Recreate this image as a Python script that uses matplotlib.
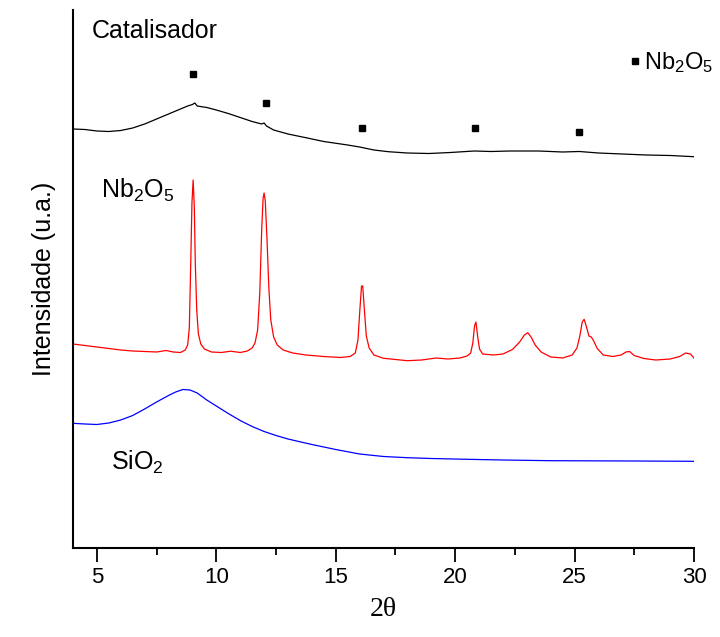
import matplotlib
matplotlib.use("Agg")
import matplotlib.pyplot as plt

plt.rcParams['font.family'] = 'Liberation Sans'
plt.rcParams['mathtext.fontset'] = 'custom'
plt.rcParams['mathtext.rm'] = 'Liberation Sans'
plt.rcParams['mathtext.it'] = 'Liberation Sans:italic'

# Catalisador (black)
cat_x = [4.0, 4.5, 5.0, 5.5, 6.0, 6.5, 7.0, 7.5, 8.0, 8.5, 8.8, 9.0, 9.1, 9.2, 9.6,
         10.0, 10.5, 11.0, 11.5, 11.9, 12.0, 12.1, 12.4, 13.0, 13.75, 14.5, 15.5,
         16.0, 16.2, 16.6, 17.2, 18.0, 18.9, 19.8, 20.8, 21.5, 22.3, 23.5, 24.5,
         25.2, 26.0, 27.0, 28.0, 29.0, 30.0]
cat_y = [419, 418.5, 417, 416.5, 417.5, 420, 424, 429, 434, 439, 442, 443.5, 445, 442, 440.5,
         438, 434.5, 430.5, 426.5, 424, 425, 422, 418, 414, 410.3, 406.5, 403,
         401, 400, 398, 396.3, 395, 394.5, 395.5, 397, 396.5, 397, 397, 396,
         396.5, 395, 394, 393, 392.5, 391.3]

# Nb2O5 (red)
nb_x = [4.0, 4.5, 5.0, 5.5, 6.0, 6.5, 7.0, 7.5, 7.9, 8.2, 8.5, 8.7, 8.8, 8.87, 8.93,
        8.98, 9.03, 9.08, 9.12, 9.18, 9.25, 9.35, 9.5, 9.8, 10.2, 10.6, 11.0, 11.3,
        11.5, 11.62, 11.73, 11.82, 11.9, 11.96, 12.0, 12.05, 12.12, 12.2, 12.28,
        12.4, 12.55, 12.8, 13.2, 13.75, 14.5, 15.2, 15.6, 15.82, 15.93, 16.01, 16.08,
        16.13, 16.2, 16.28, 16.4, 16.6, 17.0, 17.5, 18.0, 18.6, 19.2, 19.7, 20.2,
        20.5, 20.65, 20.74, 20.81, 20.87, 20.94, 21.02, 21.15, 21.6, 22.0, 22.4,
        22.7, 22.9, 23.04, 23.18, 23.35, 23.6, 24.0, 24.5, 24.9, 25.1, 25.22, 25.32,
        25.4, 25.5, 25.6, 25.7, 25.8, 25.95, 26.2, 26.6, 26.95, 27.15, 27.3, 27.5,
        27.9, 28.4, 29.0, 29.4, 29.65, 29.85, 30.0]
nb_y = [204, 202.5, 201, 199.5, 198, 197, 196.5, 196, 197.5, 196, 195.5, 198, 203, 220, 285,
        345, 368, 340, 285, 238, 214, 204, 199, 196, 195.5, 196.8, 195.5, 197,
        200, 205, 218, 255, 318, 350, 355, 347, 310, 260, 228,
        211, 203, 198, 195, 193, 191.5, 190.5, 191.5, 195, 208, 238, 262,
        262, 238, 212, 200, 193, 189.7, 188.5, 187.3, 188, 190, 189, 190,
        192, 195, 205, 222, 226, 212, 199, 194, 193, 194, 198.5,
        206, 213, 215.3, 211, 203, 196, 191, 190, 193, 200, 212, 226,
        228.7, 221, 212, 211, 207, 199.5, 193, 191.5, 193, 196, 196.5, 192.5,
        189.5, 188, 189, 191.5, 195, 194, 190]

# SiO2 (blue)
si_x = [4.0, 4.5, 5.0, 5.5, 6.0, 6.5, 7.0, 7.5, 8.0, 8.3, 8.6, 8.9, 9.2, 9.6, 10.0,
        10.5, 11.0, 11.5, 12.0, 12.5, 13.0, 14.0, 15.0, 16.0, 17.0, 18.0, 19.0,
        20.5, 22.0, 24.0, 27.5, 30.0]
si_y = [124.7, 124, 123.5, 125, 128, 132.5, 139, 146, 152.5, 156, 158.5, 158, 155, 148, 142,
        134.5, 127.5, 121.5, 116.5, 112.5, 109, 103.5, 98.5, 94, 91.5, 90.3, 89.5,
        88.7, 88, 87.3, 87, 86.7]

# Nb2O5 reflections marked on the catalyst pattern
mark_x = [9.02, 12.06, 16.09, 20.81, 25.2]
mark_y = [474, 445.3, 420.3, 419.7, 416.3]

fig = plt.figure(figsize=(7.2, 6.37), dpi=100)
ax = fig.add_axes([73/720, 89/637, 621/720, 538/637])

ax.plot(cat_x, cat_y, color='black', lw=0.9)
ax.plot(nb_x, nb_y, color='#ff0000', lw=0.9)
ax.plot(si_x, si_y, color='#0000ff', lw=0.9)
ax.plot(mark_x, mark_y, 's', color='black', ms=5, ls='none', label='Nb$_2$O$_5$')

ax.text(4.8, 510.3, 'Catalisador', fontsize=18, va='baseline')
ax.text(5.17, 350, 'Nb$_2$O$_5$', fontsize=18, va='baseline')
ax.text(5.59, 78, 'SiO$_2$', fontsize=18, va='baseline')

ax.legend(loc='center left', bbox_to_anchor=(27.3, 485), bbox_transform=ax.transData,
          frameon=False, handlelength=0.5, handletextpad=0.1, borderpad=0,
          borderaxespad=0, fontsize=17)

ax.set_xlim(4, 30)
ax.set_ylim(0, 538)
ax.set_yticks([])
ax.set_xticks([5, 10, 15, 20, 25, 30])
ax.set_xticks([7.5, 12.5, 17.5, 22.5, 27.5], minor=True)
ax.tick_params(axis='x', which='major', length=10, width=1.3, labelsize=16, pad=4)
ax.tick_params(axis='x', which='minor', length=5, width=1.3)
for s in ['top', 'right']:
    ax.spines[s].set_visible(False)
for s in ['left', 'bottom']:
    ax.spines[s].set_linewidth(1.5)

ax.set_xlabel('2θ', fontsize=20, family='Liberation Serif', labelpad=6)
ax.set_ylabel('Intensidade (u.a.)', fontsize=18, labelpad=12)

fig.savefig('out.png', dpi=100)
